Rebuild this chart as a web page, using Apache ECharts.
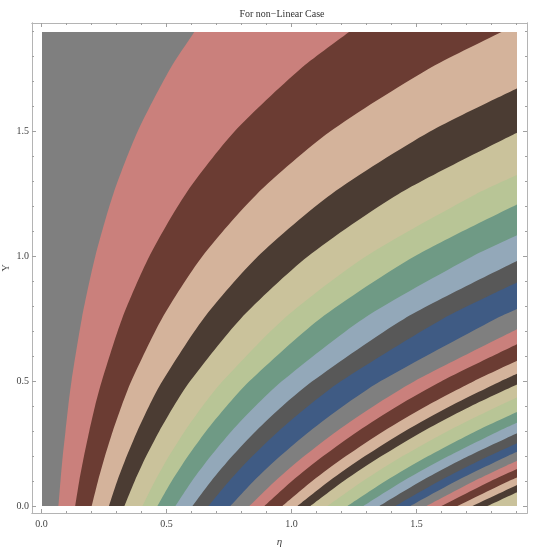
<!DOCTYPE html>
<html>
<head>
<meta charset="utf-8">
<script src="https://cdn.jsdelivr.net/npm/echarts@6/dist/echarts.min.js"></script>
<style>
  html, body { margin: 0; padding: 0; background: #fff; }
  #chart { width: 538px; height: 550px; }
</style>
</head>
<body>
<div id="chart"></div>
<script>
// contour band colours, cycle starting from the left-most (gray) band
const bandColors = ['#7f7f7f', '#ca807c', '#6b3c33', '#d4b39b', '#4b3c33', '#cac29b',
  '#b8c596', '#6f9a85', '#93a8b9', '#585858', '#3f5b84']

const yRows = [0, 0.1, 0.2, 0.3, 0.4, 0.5, 0.75, 1.0, 1.25, 1.5, 1.75, 1.9]

// eta position of each boundary (left to right) on every row
const etaRows = [
  [0.066, 0.133, 0.199, 0.268, 0.330, 0.402, 0.462, 0.534, 0.602, 0.666, 0.754, 0.830, 0.890, 0.962, 1.022, 1.074, 1.142, 1.222, 1.286, 1.350, 1.414, 1.474, 1.538, 1.598, 1.662, 1.722, 1.782],
  [0.074, 0.149, 0.224, 0.301, 0.371, 0.452, 0.519, 0.600, 0.677, 0.749, 0.847, 0.933, 1.000, 1.081, 1.149, 1.207, 1.284, 1.374, 1.445, 1.517, 1.589, 1.657, 1.729, 1.796, 1.868],
  [0.083, 0.168, 0.252, 0.339, 0.417, 0.508, 0.584, 0.675, 0.761, 0.842, 0.953, 1.049, 1.125, 1.216, 1.292, 1.358, 1.443, 1.545, 1.626, 1.706, 1.787, 1.863],
  [0.094, 0.189, 0.283, 0.381, 0.469, 0.571, 0.656, 0.758, 0.855, 0.946, 1.071, 1.179, 1.264, 1.366, 1.451, 1.525, 1.622, 1.735, 1.826],
  [0.105, 0.212, 0.318, 0.428, 0.527, 0.642, 0.738, 0.853, 0.961, 1.064, 1.204, 1.326, 1.421, 1.536, 1.632, 1.715, 1.824],
  [0.118, 0.239, 0.357, 0.481, 0.592, 0.722, 0.829, 0.959, 1.081, 1.195, 1.353, 1.490, 1.598, 1.727, 1.835],
  [0.159, 0.320, 0.479, 0.645, 0.794, 0.967, 1.111, 1.284, 1.448, 1.602, 1.813],
  [0.213, 0.429, 0.641, 0.863, 1.063, 1.295, 1.489, 1.721],
  [0.285, 0.574, 0.859, 1.157, 1.425, 1.735],
  [0.382, 0.769, 1.151, 1.550],
  [0.511, 1.031, 1.542],
  [0.609, 1.228, 1.838]
]

// Y where each boundary leaves through the right edge (null = leaves through the top)
const exitY = [null, null, null, 1.674, 1.496, 1.327, 1.209, 1.085, 0.982, 0.896, 0.790,
  0.708, 0.648, 0.582, 0.530, 0.487, 0.435, 0.377, 0.334, 0.292, 0.252, 0.217, 0.181,
  0.148, 0.114, 0.084, 0.055]

const xMajor = [0, 0.5, 1.0, 1.5]
const xLabels = ['0.0', '0.5', '1.0', '1.5']
const yMajor = [0, 0.5, 1.0, 1.5]
const yLabels = ['0.0', '0.5', '1.0', '1.5']
const minorTicks = [0, 0.1, 0.2, 0.3, 0.4, 0.5, 0.6, 0.7, 0.8, 0.9, 1.0, 1.1, 1.2, 1.3, 1.4, 1.5, 1.6, 1.7, 1.8, 1.9]

const MAX = 1.9
const frameColor = '#b4b4b4'
const labelColor = '#444'
const serif = '"Liberation Serif", "DejaVu Serif", serif'

function boundaryPoints(k) {
  const pts = []
  yRows.forEach((y, j) => {
    const v = etaRows[j][k]
    if (v != null) pts.push([v, y])
  })
  if (exitY[k] != null) {
    pts.push([MAX, exitY[k]])
  } else {
    // leaves through the top: carry on past the clipped edge in the same direction,
    // then close the fill off-plot, so the visible curve keeps its slope at the edge
    const p = pts[pts.length - 1]
    const q = pts[pts.length - 2]
    const ext = [p[0] + (p[0] - q[0]) * 0.5, p[1] + (p[1] - q[1]) * 0.5]
    pts.push(ext)
    pts.push([Math.max(ext[0], MAX) + 0.2, ext[1]])
  }
  return pts
}

const series = exitY.map((_, k) => ({
  type: 'line',
  xAxisIndex: 0,
  yAxisIndex: 0,
  data: boundaryPoints(k),
  smooth: 0.25,
  symbol: 'none',
  silent: true,
  lineStyle: { width: 0, opacity: 0 },
  areaStyle: { color: bandColors[(k + 1) % bandColors.length], opacity: 1, origin: 'start' },
  clip: true
}))

function frameAxis(dim, pos, ticks, len, labels) {
  const isX = dim === 'x'
  return {
    type: 'value',
    gridIndex: 1,
    position: pos,
    min: isX ? -0.038 : -0.028,
    max: isX ? 1.942 : 1.932,
    splitLine: { show: false },
    nameMoveOverlap: false,
    axisLine: { show: true, onZero: false, lineStyle: { color: frameColor, width: 1 } },
    axisTick: { show: true, inside: true, length: len, customValues: ticks, lineStyle: { color: '#a0a0a0' } },
    axisLabel: labels ? {
      show: true,
      customValues: ticks,
      color: labelColor,
      fontFamily: serif,
      fontSize: 10,
      margin: isX ? 6 : 3,
      formatter: (v) => labels[ticks.indexOf(v)] ?? ''
    } : { show: false }
  }
}

const chart = echarts.init(document.getElementById('chart'), null, { renderer: 'canvas' })
chart.setOption({
  animation: false,
  backgroundColor: '#fff',
  title: {
    text: 'For non\u2212Linear Case',
    left: 277,
    top: 4,
    textAlign: 'center',
    textStyle: { fontFamily: serif, fontSize: 10, fontWeight: 'normal', color: '#333' }
  },
  grid: [
    { left: 42, right: 21, top: 32, bottom: 44, show: true, backgroundColor: bandColors[0],
      borderWidth: 0, containLabel: false, outerBoundsMode: 'none' },
    { left: 32, right: 11, top: 23, bottom: 37, containLabel: false, outerBoundsMode: 'none' }
  ],
  xAxis: [
    { type: 'value', gridIndex: 0, min: 0, max: MAX, show: false },
    Object.assign(frameAxis('x', 'bottom', xMajor, 4, xLabels), {
      name: '\u03b7', nameLocation: 'middle', nameGap: 24,
      nameTextStyle: { fontFamily: serif, fontSize: 11, color: labelColor, fontStyle: 'italic' }
    }),
    frameAxis('x', 'bottom', minorTicks, 2),
    frameAxis('x', 'top', xMajor, 4),
    frameAxis('x', 'top', minorTicks, 2)
  ],
  yAxis: [
    { type: 'value', gridIndex: 0, min: 0, max: MAX, show: false },
    Object.assign(frameAxis('y', 'left', yMajor, 4, yLabels), {
      name: 'Y', nameLocation: 'middle', nameGap: 21, nameRotate: 90,
      nameTextStyle: { fontFamily: serif, fontSize: 10, color: labelColor }
    }),
    frameAxis('y', 'left', minorTicks, 2),
    frameAxis('y', 'right', yMajor, 4),
    frameAxis('y', 'right', minorTicks, 2)
  ],
  series: series
})
</script>
</body>
</html>
